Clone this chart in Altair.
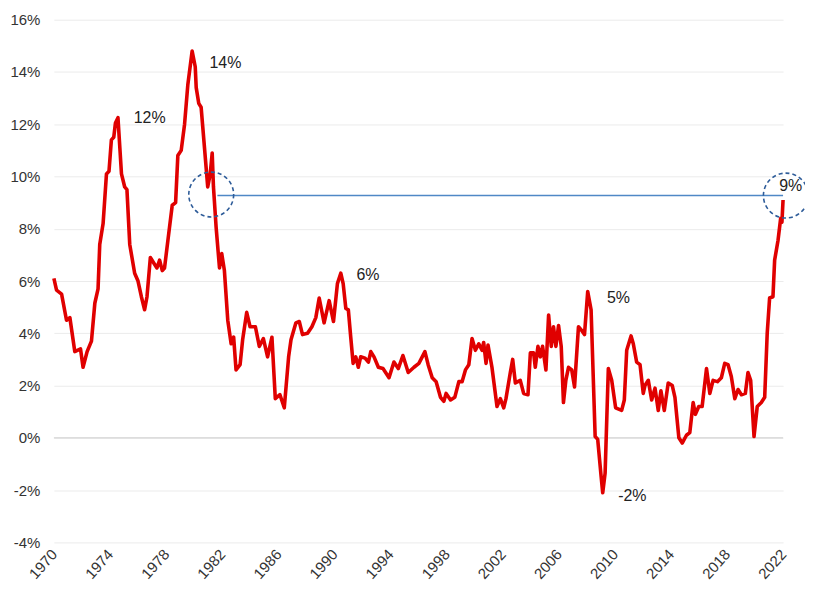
import altair as alt
import pandas as pd

# --- data (x in axis-year units, y in %) ---
years = [
    1970.00, 1970.19, 1970.55, 1970.90, 1971.14, 1971.49, 1971.90, 1972.08, 1972.37, 1972.68,
    1972.92, 1973.15, 1973.27, 1973.51, 1973.75, 1973.93, 1974.10, 1974.27, 1974.39, 1974.57,
    1974.82, 1975.05, 1975.21, 1975.41, 1975.76, 1976.00, 1976.24, 1976.47, 1976.64, 1976.88,
    1977.11, 1977.35, 1977.54, 1977.73, 1977.89, 1978.13, 1978.44, 1978.68, 1978.84, 1979.08,
    1979.32, 1979.55, 1979.86, 1980.08, 1980.15, 1980.33, 1980.50, 1980.74, 1980.97, 1981.15,
    1981.29, 1981.38, 1981.57, 1981.81, 1981.97, 1982.16, 1982.40, 1982.64, 1982.82, 1982.99,
    1983.28, 1983.46, 1983.75, 1983.99, 1984.37, 1984.65, 1984.94, 1985.24, 1985.55, 1985.79,
    1986.12, 1986.43, 1986.74, 1986.91, 1987.26, 1987.50, 1987.73, 1988.09, 1988.40, 1988.68,
    1988.92, 1989.27, 1989.63, 1989.94, 1990.22, 1990.46, 1990.63, 1990.82, 1991.00, 1991.17,
    1991.34, 1991.53, 1991.71, 1991.88, 1992.19, 1992.43, 1992.60, 1992.83, 1993.14, 1993.47,
    1993.90, 1994.25, 1994.56, 1994.89, 1995.27, 1995.68, 1996.03, 1996.46, 1996.69, 1996.98,
    1997.26, 1997.57, 1997.81, 1997.97, 1998.29, 1998.59, 1998.88, 1999.11, 1999.35, 1999.59,
    1999.82, 2000.06, 2000.30, 2000.53, 2000.65, 2000.82, 2000.96, 2001.24, 2001.60, 2001.84,
    2002.08, 2002.24, 2002.55, 2002.72, 2002.91, 2003.26, 2003.50, 2003.81, 2003.98, 2004.21,
    2004.33, 2004.52, 2004.69, 2004.85, 2005.09, 2005.28, 2005.47, 2005.63, 2005.80, 2005.99,
    2006.18, 2006.34, 2006.51, 2006.70, 2006.93, 2007.13, 2007.41, 2007.65, 2007.84, 2008.07,
    2008.31, 2008.60, 2008.78, 2009.03, 2009.14, 2009.31, 2009.54, 2009.78, 2010.06, 2010.49,
    2010.68, 2010.85, 2011.16, 2011.32, 2011.56, 2011.80, 2012.03, 2012.15, 2012.39, 2012.63,
    2012.87, 2013.10, 2013.29, 2013.53, 2013.81, 2014.10, 2014.29, 2014.57, 2014.81, 2015.11,
    2015.35, 2015.59, 2015.75, 2015.99, 2016.23, 2016.54, 2016.78, 2017.01, 2017.32, 2017.60,
    2017.84, 2018.08, 2018.31, 2018.56, 2018.79, 2019.03, 2019.31, 2019.50, 2019.69, 2019.93,
    2020.16, 2020.45, 2020.69, 2020.87, 2021.04, 2021.28, 2021.40, 2021.64, 2021.83, 2021.92,
    2022.00,
]
inflation = [
    6.1, 5.65, 5.5, 4.5, 4.6, 3.3, 3.4, 2.7, 3.3, 3.7,
    5.15, 5.7, 7.4, 8.2, 10.1, 10.2, 11.4, 11.5, 12.05, 12.25,
    10.1, 9.6, 9.5, 7.4, 6.3, 6.0, 5.4, 4.9, 5.4, 6.9,
    6.7, 6.5, 6.8, 6.4, 6.5, 7.55, 8.9, 9.0, 10.8, 11.0,
    12.0, 13.5, 14.8, 14.2, 13.4, 12.8, 12.65, 11.1, 9.6, 10.1,
    10.9, 9.6, 8.05, 6.5, 7.05, 6.4, 4.5, 3.6, 3.85, 2.6,
    2.8, 3.75, 4.8, 4.25, 4.25, 3.5, 3.8, 3.1, 3.85, 1.5,
    1.65, 1.15, 3.1, 3.75, 4.4, 4.45, 3.95, 4.0, 4.25, 4.6,
    5.35, 4.4, 5.25, 4.45, 5.9, 6.3, 5.9, 4.95, 4.9, 3.85,
    2.85, 3.1, 2.7, 3.1, 3.05, 2.9, 3.3, 3.1, 2.7, 2.65,
    2.3, 2.9, 2.65, 3.15, 2.5, 2.7, 2.85, 3.3, 2.8, 2.3,
    2.15, 1.55, 1.4, 1.7, 1.45, 1.55, 2.15, 2.15, 2.6, 2.8,
    3.8, 3.35, 3.6, 3.35, 3.65, 2.85, 3.55, 2.7, 1.2, 1.5,
    1.15, 1.5, 2.5, 3.0, 2.1, 2.2, 1.7, 1.65, 3.25, 3.25,
    2.7, 3.5, 3.1, 3.5, 2.6, 4.7, 3.5, 4.25, 3.5, 4.3,
    3.5, 1.35, 2.2, 2.7, 2.6, 1.95, 4.25, 4.1, 3.95, 5.6,
    4.9, 0.05, -0.05, -1.5, -2.1, -1.35, 2.65, 2.2, 1.15, 1.05,
    1.45, 3.35, 3.9, 3.6, 2.9, 2.8, 1.7, 2.0, 2.2, 1.45,
    1.9, 1.05, 1.8, 1.05, 2.1, 2.0, 1.55, 0.0, -0.2, 0.1,
    0.2, 1.35, 0.9, 1.2, 1.2, 2.65, 1.7, 2.2, 2.15, 2.3,
    2.85, 2.8, 2.35, 1.5, 1.85, 1.65, 1.7, 2.5, 2.2, 0.05,
    1.2, 1.35, 1.55, 4.0, 5.35, 5.4, 6.8, 7.55, 8.4, 8.25,
    9.1,
]

# annotation labels
label_text = ["12%", "14%", "6%", "5%", "-2%", "9%"]
label_x = [1976.83, 1982.23, 1992.40, 2010.26, 2011.25, 2022.55]
label_y = [12.25, 14.35, 6.22, 5.34, -2.21, 9.62]

# reference level line and highlight circles
ref_level = 9.27
ref_start = 1981.66
ref_end = 2022.0
circle_x = [1981.22, 2022.2]
circle_y = [9.31, 9.27]

x_ticks = list(range(1970, 2023, 4))
y_ticks = list(range(-4, 17, 2))

df = pd.DataFrame({"year": years, "value": inflation})
labels_df = pd.DataFrame({"text": label_text, "x": label_x, "y": label_y})
ref_df = pd.DataFrame({"x": [ref_start], "x2": [ref_end], "y": [ref_level]})
circ_df = pd.DataFrame({"x": circle_x, "y": circle_y})
zero_df = pd.DataFrame({"x": [1970], "x2": [2022], "y": [0]})

xscale = alt.Scale(domain=[1970, 2022], nice=False, zero=False)
yscale = alt.Scale(domain=[-4, 16], nice=False)

xaxis = alt.Axis(values=x_ticks, format="d", labelAngle=-48, grid=False, ticks=False,
                 domain=False, title=None, labelFontSize=15, labelColor="#333333",
                 labelPadding=9)
yaxis = alt.Axis(values=y_ticks, labelExpr="datum.value + '%'", grid=True,
                 gridColor="#ebebeb", gridWidth=1, ticks=False, domain=False, title=None,
                 labelFontSize=15, labelColor="#333333", labelPadding=14)

line = alt.Chart(df).mark_line(color="#e00000", strokeWidth=3.6, strokeJoin="round").encode(
    x=alt.X("year:Q", scale=xscale, axis=xaxis),
    y=alt.Y("value:Q", scale=yscale, axis=yaxis),
)

zero = alt.Chart(zero_df).mark_rule(color="#d4d4d4", strokeWidth=1.2).encode(
    x=alt.X("x:Q", scale=xscale), x2="x2:Q", y=alt.Y("y:Q", scale=yscale)
)

ref = alt.Chart(ref_df).mark_rule(color="#4f88c6", strokeWidth=1.5).encode(
    x=alt.X("x:Q", scale=xscale), x2="x2:Q", y=alt.Y("y:Q", scale=yscale)
)

circles = alt.Chart(circ_df).mark_point(
    shape="circle", filled=False, size=2025, color="#2e5c99", strokeWidth=1.6,
    strokeDash=[4, 3], opacity=1
).encode(x=alt.X("x:Q", scale=xscale), y=alt.Y("y:Q", scale=yscale))

texts = alt.Chart(labels_df).mark_text(fontSize=16, color="#222222", align="center",
                                       baseline="middle").encode(
    x=alt.X("x:Q", scale=xscale), y=alt.Y("y:Q", scale=yscale), text="text:N"
)

chart = alt.layer(zero, line, ref, circles, texts).properties(
    width=731, height=524,
    autosize=alt.AutoSizeParams(type="none"),
    padding={"left": 46, "top": 11, "right": 22, "bottom": 38},
).configure(font="Liberation Sans").configure_view(stroke=None)

chart.save("out.html", embed_options={"renderer": "svg", "actions": False})
